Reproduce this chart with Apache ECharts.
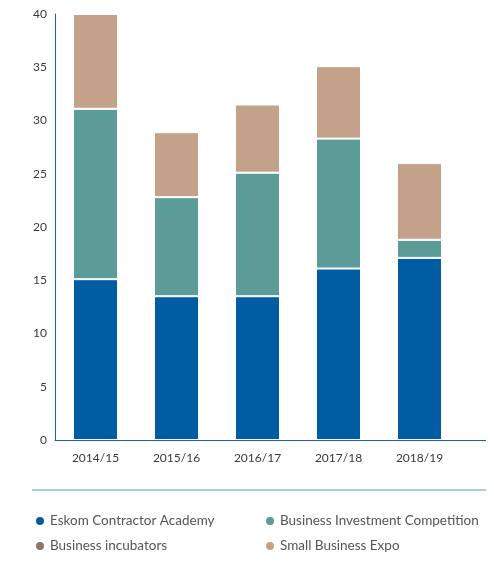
<!DOCTYPE html>
<html>
<head>
<meta charset="utf-8">
<script src="https://cdn.jsdelivr.net/npm/echarts@6/dist/echarts.min.js"></script>
<style>
html,body{margin:0;padding:0;background:#fff;}
#c{width:494px;height:567px;}
</style>
</head>
<body>
<div id="c"></div>
<script>
const categories = ['2014/15','2015/16','2016/17','2017/18','2018/19'];
const seriesNames = ['Eskom Contractor Academy','Business Investment Competition','Business incubators','Small Business Expo'];
const eskomAcademy = [15.1, 13.5, 13.5, 16.1, 17.1];
const investmentComp = [16.0, 9.3, 11.6, 12.2, 1.7];
const incubators = [0, 0, 0, 0, 0];
const smallBizExpo = [8.9, 6.1, 6.4, 6.8, 7.2];

const colors = ['#005da4','#5c9c98','#8b7868','#c4a28a'];
const font = 'Lato, "Open Sans", sans-serif';

const chart = echarts.init(document.getElementById('c'));
const vals = [eskomAcademy, investmentComp, incubators, smallBizExpo];

const series = seriesNames.map((n,i)=>({
  name:n, type:'bar', stack:'total', barWidth:45,
  data: vals[i],
  itemStyle:{color:colors[i], borderColor:'#ffffff', borderWidth:1},
  emphasis:{disabled:true}
}));

const legendPos = [[29,509],[259,509],[29,534],[259,534]];
const legends = seriesNames.map((n,i)=>({
  data:[n], left:legendPos[i][0], top:legendPos[i][1], orient:'horizontal',
  icon:'circle', itemWidth:10, itemHeight:10, selectedMode:false,
  textStyle:{fontFamily:font, fontSize:13.5, color:'#555'}
}));

chart.setOption({
  animation:false,
  color:colors,
  grid:{left:55, right:34, top:14, bottom:127, containLabel:false},
  xAxis:{type:'category', data:categories,
    axisLine:{show:true, lineStyle:{color:'#1f5fa8', width:1}},
    axisTick:{show:false}, splitLine:{show:false},
    axisLabel:{fontFamily:font, fontSize:12, color:'#3a3a3a', margin:12}
  },
  yAxis:{type:'value', min:0, max:40, interval:5,
    axisLine:{show:true, lineStyle:{color:'#1f5fa8', width:1}},
    axisTick:{show:false}, splitLine:{show:false},
    axisLabel:{fontFamily:font, fontSize:12, color:'#3a3a3a', margin:8}
  },
  legend:legends,
  graphic:[
    {type:'line', shape:{x1:32,y1:490,x2:486,y2:490}, style:{stroke:'#5a9bd5', lineWidth:1}},
    {type:'line', shape:{x1:460,y1:440.5,x2:486,y2:440.5}, style:{stroke:'#1f5fa8', lineWidth:1}}
  ],
  series:series
});
</script>
</body>
</html>
